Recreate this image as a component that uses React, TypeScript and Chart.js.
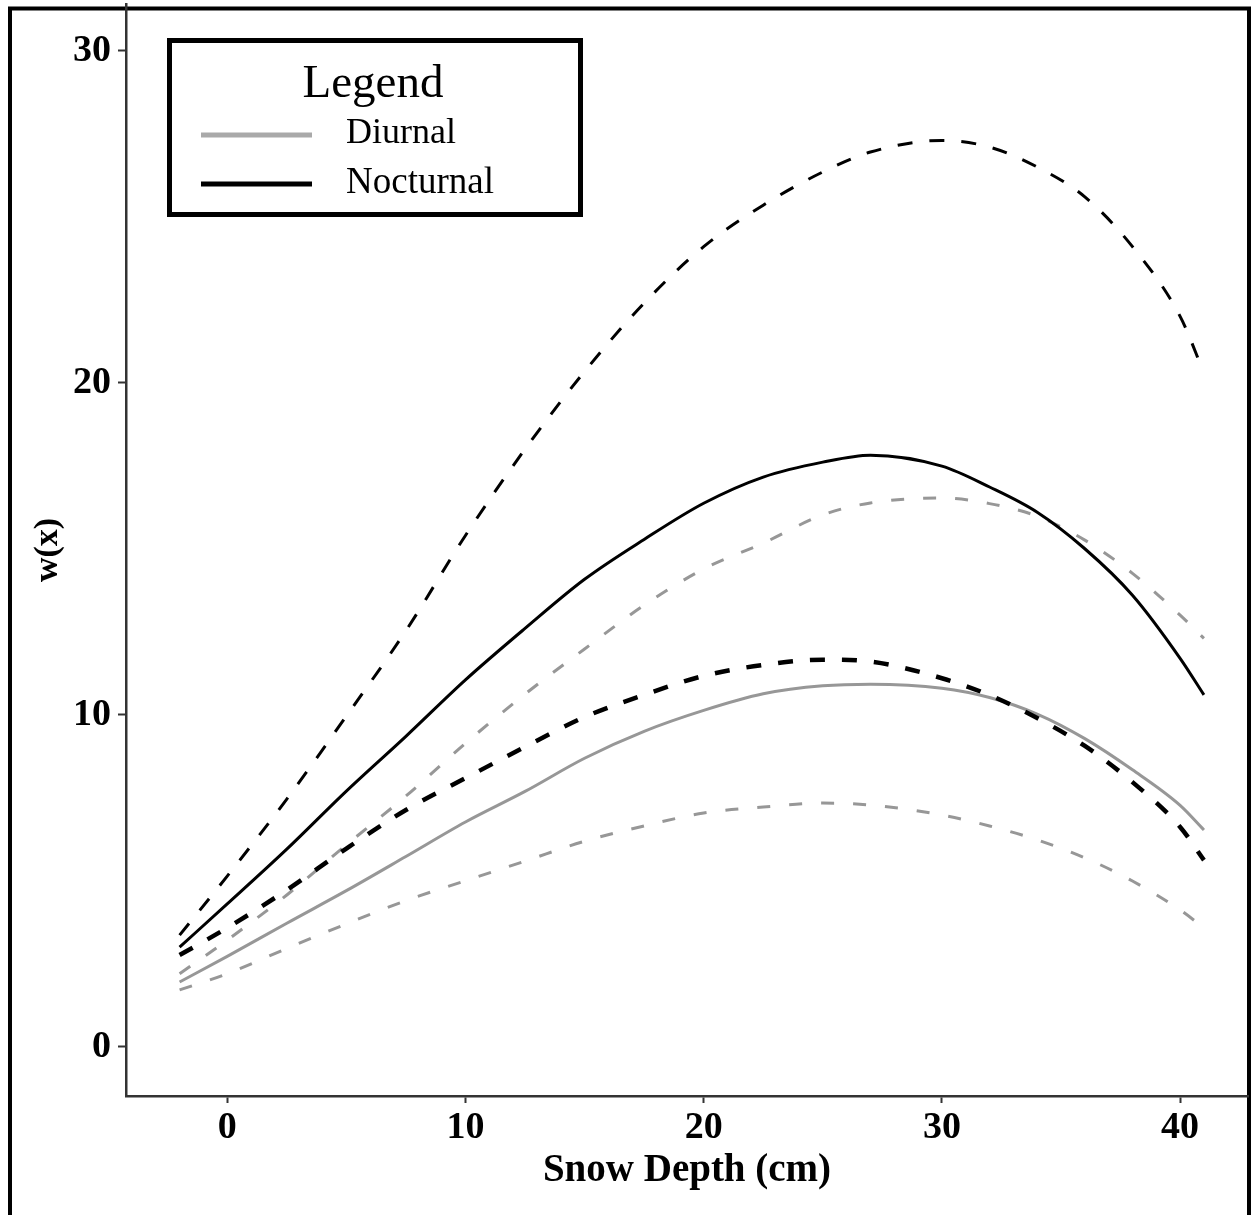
import React, { useEffect, useRef } from "react";
import { Chart, registerables } from "chart.js";

Chart.register(...registerables);

// Snow depth (cm) sample positions
const xs = [-2, 0, 2.5, 5, 7.5, 10, 12.5, 15, 17.5, 20, 22.5, 25, 27, 30, 32, 34, 36, 38, 40, 41];

// Nocturnal: fitted curve and confidence bounds
const nocturnalFit = [3.0, 4.3, 5.95, 7.7, 9.35, 11.05, 12.6, 14.08, 15.28, 16.37, 17.16, 17.61, 17.82, 17.49, 16.86, 16.1, 15.0, 13.6, 11.7, 10.6];
const nocturnalUpper = [3.36, 5.14, 7.46, 9.96, 12.53, 15.4, 18.0, 20.34, 22.4, 24.1, 25.35, 26.35, 26.95, 27.3, 27.1, 26.5, 25.6, 24.1, 22.0, 20.3];
const nocturnalLower = [2.76, 3.58, 4.72, 5.97, 7.13, 8.09, 9.03, 9.93, 10.6, 11.17, 11.5, 11.66, 11.6, 11.1, 10.59, 9.9, 9.06, 7.97, 6.62, 5.62];

// Diurnal: fitted curve and confidence bounds
const diurnalFit = [1.95, 2.72, 3.72, 4.7, 5.73, 6.77, 7.69, 8.69, 9.5, 10.13, 10.63, 10.87, 10.92, 10.8, 10.52, 10.02, 9.28, 8.34, 7.27, 6.53];
const diurnalUpper = [2.2, 3.21, 4.57, 6.08, 7.55, 9.14, 10.62, 11.98, 13.3, 14.39, 15.17, 16.02, 16.38, 16.53, 16.36, 15.98, 15.26, 14.26, 13.0, 12.3];
const diurnalLower = [1.71, 2.2, 2.96, 3.7, 4.4, 5.0, 5.59, 6.19, 6.65, 7.04, 7.22, 7.34, 7.28, 6.98, 6.65, 6.23, 5.69, 4.99, 4.12, 3.58];

// Axis ticks
const xTickValues = [0, 10, 20, 30, 40];
const yTickValues = [0, 10, 20, 30];

// Legend entries
const legendLabels = ["Diurnal", "Nocturnal"];
const legendColors = ["#a9a9a9", "#000000"];

const X_MIN = -4.25;
const X_MAX = 42.85;
const Y_MIN = -1.485;
const Y_MAX = 31.41;

const FONT = "'Liberation Serif', 'Times New Roman', serif";
const GREY = "#979797";
const AXIS = "#333333";

const toPoints = (ys: number[]) => xs.map((x, i) => ({ x, y: ys[i] }));

const framePlugin = {
  id: "frame",
  beforeDraw(chart: any) {
    const ctx = chart.ctx;
    ctx.save();
    ctx.fillStyle = "#ffffff";
    ctx.fillRect(0, 0, chart.width, chart.height);
    ctx.strokeStyle = "#000000";
    ctx.lineWidth = 4;
    ctx.strokeRect(10, 8.5, 1239, 1300);
    ctx.restore();
  },
};

const legendPlugin = {
  id: "boxLegend",
  afterDraw(chart: any) {
    const ctx = chart.ctx;
    ctx.save();
    ctx.fillStyle = "#ffffff";
    ctx.fillRect(169.5, 40.5, 411, 174);
    ctx.strokeStyle = "#000000";
    ctx.lineWidth = 5;
    ctx.strokeRect(169.5, 40.5, 411, 174);

    ctx.fillStyle = "#000000";
    ctx.textBaseline = "alphabetic";
    ctx.textAlign = "center";
    ctx.font = `47px ${FONT}`;
    ctx.fillText("Legend", 373, 97);

    ctx.textAlign = "left";
    const rowY = [135, 184];
    const baseY = [143, 193];
    legendLabels.forEach((label, i) => {
      ctx.strokeStyle = legendColors[i];
      ctx.lineWidth = 5;
      ctx.beginPath();
      ctx.moveTo(201, rowY[i]);
      ctx.lineTo(312, rowY[i]);
      ctx.stroke();
      ctx.fillStyle = "#000000";
      ctx.font = `${i === 0 ? 36 : 37}px ${FONT}`;
      ctx.fillText(label, 346, baseY[i]);
    });
    ctx.restore();
  },
};

export default function App() {
  const canvasRef = useRef<HTMLCanvasElement | null>(null);

  useEffect(() => {
    if (!canvasRef.current) return;
    const line = (ys: number[], color: string, width: number, dash: number[]) => ({
      data: toPoints(ys),
      borderColor: color,
      borderWidth: width,
      borderDash: dash,
      pointRadius: 0,
      fill: false,
      cubicInterpolationMode: "monotone" as const,
    });

    const chart = new Chart(canvasRef.current, {
      type: "line",
      data: {
        datasets: [
          line(nocturnalFit, "#000000", 3, []),
          line(nocturnalUpper, "#000000", 3, [15, 17]),
          line(nocturnalLower, "#000000", 4.5, [15, 17]),
          line(diurnalFit, GREY, 3, []),
          line(diurnalUpper, GREY, 3, [13, 19]),
          line(diurnalLower, GREY, 3, [13, 19]),
        ],
      },
      options: {
        responsive: false,
        animation: false,
        devicePixelRatio: 1,
        layout: { padding: { left: 0, top: 4, right: 3, bottom: 0 } },
        plugins: { legend: { display: false }, tooltip: { enabled: false } },
        scales: {
          x: {
            type: "linear",
            min: X_MIN,
            max: X_MAX,
            afterBuildTicks: (s: any) => {
              s.ticks = xTickValues.map((v) => ({ value: v }));
            },
            afterFit: (s: any) => {
              s.height = 119;
              s.paddingLeft = 0;
              s.paddingRight = 0;
            },
            border: { display: true, color: AXIS, width: 2.5 },
            grid: { drawOnChartArea: false, drawTicks: true, tickLength: 7, tickColor: AXIS, tickWidth: 2 },
            ticks: {
              color: "#000000",
              font: { family: FONT, size: 38, weight: "bold" },
              padding: 2,
              maxRotation: 0,
              autoSkip: false,
            },
            title: {
              display: true,
              text: "Snow Depth (cm)",
              color: "#000000",
              font: { family: FONT, size: 39, weight: "bold" },
              padding: { top: 0, bottom: 21 },
            },
          },
          y: {
            type: "linear",
            min: Y_MIN,
            max: Y_MAX,
            afterBuildTicks: (s: any) => {
              s.ticks = yTickValues.map((v) => ({ value: v }));
            },
            afterFit: (s: any) => {
              s.width = 126;
              s.paddingTop = 0;
              s.paddingBottom = 0;
            },
            border: { display: true, color: AXIS, width: 2.5 },
            grid: { drawOnChartArea: false, drawTicks: true, tickLength: 8, tickColor: AXIS, tickWidth: 2 },
            ticks: {
              color: "#000000",
              font: { family: FONT, size: 38, weight: "bold" },
              padding: 7,
              autoSkip: false,
            },
            title: {
              display: true,
              text: "w(x)",
              color: "#000000",
              font: { family: FONT, size: 34, weight: "bold" },
              padding: { top: 28, bottom: 0 },
            },
          },
        },
      },
      plugins: [framePlugin, legendPlugin],
    });
    return () => chart.destroy();
  }, []);

  return (
    <div style={{ position: "absolute", left: 0, top: 0, width: 1251, height: 1215 }}>
      <canvas ref={canvasRef} width={1251} height={1215} style={{ display: "block" }} />
    </div>
  );
}
